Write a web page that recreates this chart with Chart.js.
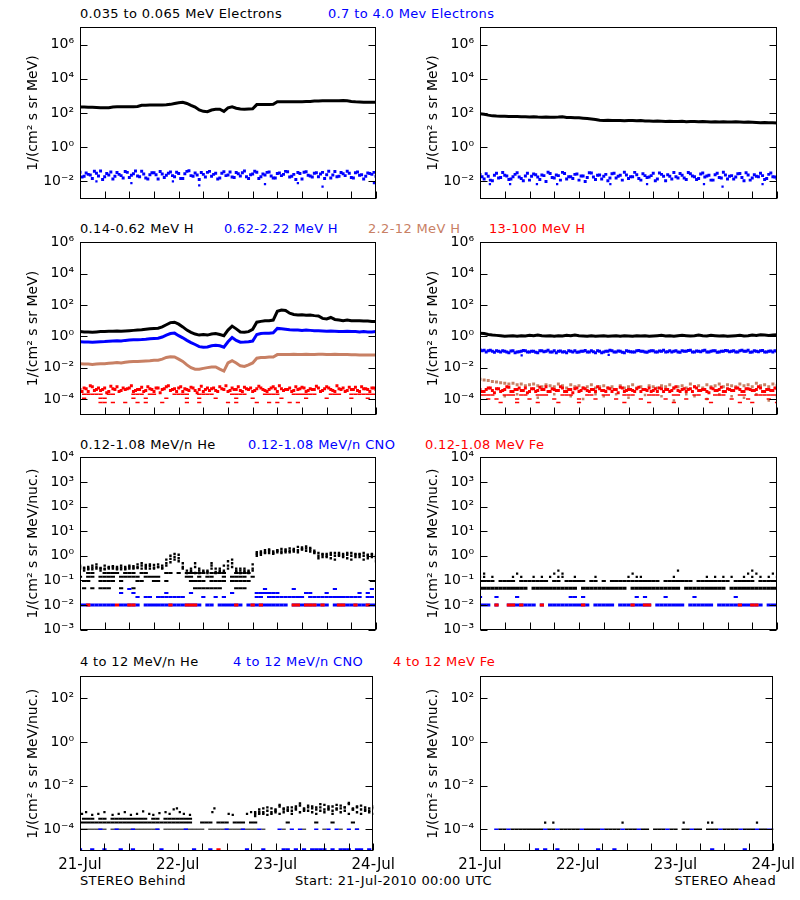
<!DOCTYPE html>
<html>
<head>
<meta charset="utf-8">
<script src="https://cdn.jsdelivr.net/npm/chart.js@4.4.0/dist/chart.umd.min.js"></script>
<style>
  html, body { margin: 0; padding: 0; background: #fff; }
  body { width: 800px; height: 900px; position: relative; overflow: hidden; font-family: "DejaVu Sans", sans-serif; }
  canvas { position: absolute; }
  .t { position: absolute; font-size: 13px; letter-spacing: 0.35px; white-space: nowrap; line-height: 16px; color: #000; }
</style>
</head>
<body>
<div class="t" style="left:80px;top:6px">0.035 to 0.065 MeV Electrons</div>
<div class="t" style="left:328px;top:6px;color:#0000ff">0.7 to 4.0 Mev Electrons</div>
<div class="t" style="left:80px;top:221px">0.14-0.62 MeV H</div>
<div class="t" style="left:224px;top:221px;color:#0000ff">0.62-2.22 MeV H</div>
<div class="t" style="left:368px;top:221px;color:rgb(200,128,100)">2.2-12 MeV H</div>
<div class="t" style="left:489px;top:221px;color:#ff0000">13-100 MeV H</div>
<div class="t" style="left:80px;top:437px">0.12-1.08 MeV/n He</div>
<div class="t" style="left:248px;top:437px;color:#0000ff">0.12-1.08 MeV/n CNO</div>
<div class="t" style="left:425px;top:437px;color:#ff0000">0.12-1.08 MeV Fe</div>
<div class="t" style="left:80px;top:654px">4 to 12 MeV/n He</div>
<div class="t" style="left:233px;top:654px;color:#0000ff">4 to 12 MeV/n CNO</div>
<div class="t" style="left:393px;top:654px;color:#ff0000">4 to 12 MeV Fe</div>
<div class="t" style="left:80px;top:873px">STEREO Behind</div>
<div class="t" style="left:295px;top:873px">Start: 21-Jul-2010 00:00 UTC</div>
<div class="t" style="right:24px;top:873px">STEREO Ahead</div>
<script>
// time axis: hours since 21-Jul-2010 00:00
var dayLabels = ['21-Jul', '22-Jul', '23-Jul', '24-Jul']

// ---- electrons (hourly) ----
var eLoBehind = [224,222,218,215,212, 205,200,205, 225,228,230,232,230,235,240, 280,285,290,290,292,295,300,
  320,360,400,425, 360,280,224, 150,125,120, 150,165,165, 125, 200,230, 190,170,165,170,175,
  310,315,316,318,320, 450,455,460,460,455,460,460,465,470, 500,510,520,525,525,520,525,530,520,
  470,450,440,430,430,425,420]
var eHiBehind = [0.035,0.02,0.026,0.015,0.03,0.041,0.019,0.024,0.014,0.033, 0.022,0.038,0.017,0.028,0.021,0.04,0.016,0.025,0.032,0.014,
  0.027,0.023,0.036,0.019,0.029,0.015,0.039,0.022,0.031,0.013, 0.026,0.034,0.02,0.03,0.016,0.037,0.024,0.018,0.033,0.021,
  0.041,0.015,0.027,0.035,0.019,0.024,0.036,0.016,0.029,0.022, 0.039,0.018,0.026,0.033,0.014,0.037,0.021,0.03,0.019,0.034,
  0.025,0.016,0.038,0.02,0.028,0.04,0.017,0.032,0.023,0.014, 0.031,0.026,0.02]
var eHiBehindHalf = [0.018,0.031,0.024,0.04,0.021,0.013,0.029,0.036,0.02,0.026, 0.016,0.034,0.023,0.041,0.019,0.027,0.014,0.032,0.025,0.038,
  0.017,0.03,0.022,0.035,0.015,0.028,0.042,0.02,0.024,0.033, 0.018,0.039,0.026,0.014,0.03,0.022,0.036,0.017,0.028,0.032,
  0.019,0.025,0.04,0.015,0.027,0.034,0.021,0.016,0.031,0.026, 0.037,0.02,0.013,0.029,0.035,0.023,0.018,0.032,0.027,0.015,
  0.04,0.024,0.019,0.033,0.022,0.03,0.016,0.036,0.025,0.02, 0.029,0.034]
var eHiBehindLow = [[4,0.01],[12.5,0.008],[22.6,0.01],[29,0.006],[45,0.007],[53,0.008],[59,0.005],[71.5,0.008]]

var eLoAhead = [90,85,75, 68,66,65,64,63,62,63,61, 60,59,60,58,57,58,56,57,58,60, 55,54,53,52,50,48,45,42,
  38,37,38,36,37,36,35,37,36,35,36,34, 34,33,34,33,32,33,32,32,33,31,32,32,31,32,31,30,
  31,30,31,30,30,31,30,29,30,29,28,27,28,27,27,26]
var eHiAhead = [0.026,0.014,0.02,0.011,0.03,0.017,0.023,0.013,0.019,0.032, 0.015,0.021,0.012,0.027,0.018,0.024,0.01,0.029,0.016,0.022,
  0.034,0.014,0.019,0.026,0.012,0.021,0.017,0.031,0.013,0.024, 0.02,0.011,0.028,0.016,0.023,0.035,0.015,0.019,0.025,0.012,
  0.022,0.018,0.03,0.014,0.026,0.011,0.02,0.033,0.016,0.023, 0.013,0.028,0.019,0.015,0.031,0.021,0.012,0.025,0.017,0.035,
  0.014,0.022,0.018,0.029,0.011,0.024,0.016,0.02,0.03,0.013, 0.026,0.019,0.015]
var eHiAheadHalf = [0.019,0.028,0.012,0.023,0.016,0.033,0.021,0.014,0.026,0.018, 0.011,0.03,0.02,0.025,0.013,0.022,0.035,0.017,0.024,0.012,
  0.029,0.019,0.015,0.027,0.021,0.01,0.032,0.018,0.023,0.014, 0.026,0.016,0.03,0.02,0.012,0.024,0.019,0.034,0.015,0.028,
  0.017,0.022,0.011,0.031,0.02,0.025,0.014,0.019,0.029,0.016, 0.033,0.021,0.013,0.027,0.018,0.023,0.012,0.03,0.016,0.024,
  0.02,0.014,0.028,0.017,0.032,0.012,0.025,0.019,0.022,0.015, 0.031,0.018]
var eHiAheadLow = [[2.4,0.007],[7.3,0.007],[13.8,0.007],[18.7,0.007],[31.6,0.007],[40.5,0.007],[54.3,0.007],[58.8,0.005],[68.5,0.007]]

// ---- protons (hourly) ----
var hLoBehind = [2.0,1.9,1.9,1.8,1.9,2.0,2.0,2.1, 2.1,2.2,2.1,2.2,2.3,2.4,2.5,2.6, 2.8,3.0,3.2,3.3,4.0,5.5,
  7.5,8.0,6.0,4.0, 2.5,1.8,1.4,1.2,1.3,1.2, 1.4,1.5,1.3,1.1, 2.5,4.5,3.0, 1.9,1.8,2.0,2.8,
  8,9,10,10,11, 40,48,45,30, 25,23,24,22,23,21,20, 14,13,16,12, 11,10,11,10,10,10,9.5,9.5,9,9]
var hMidBehind = [0.45,0.44,0.43,0.42,0.44,0.45,0.46,0.48, 0.5,0.52,0.5,0.55,0.58,0.6,0.6,0.62, 0.65,0.7,0.72,0.75,0.9,1.2,
  1.5,1.6,1.1,0.8, 0.55,0.4,0.3,0.22,0.2,0.21, 0.25,0.27,0.25,0.2, 0.45,0.85,0.55, 0.42,0.43,0.45,0.5,
  1.3,1.5,1.6,1.6,1.7, 3.2,3.0,2.8,2.6, 2.5,2.5,2.4,2.5,2.4,2.3,2.3, 2.2,2.1,2.2,2.1, 2.0,2.0,2.1,2.0,2.0,1.9,2.0,1.9,1.9,2.0]
var hHiBehind = [0.018,0.017,0.017,0.016,0.017,0.018,0.018,0.019, 0.02,0.021,0.02,0.022,0.024,0.025,0.025,0.026,
  0.027,0.028,0.03,0.03,0.035,0.045, 0.05,0.048,0.035,0.025, 0.015,0.01,0.008,0.008,0.009,0.01, 0.011,0.011,0.008,0.006,
  0.02,0.028,0.02, 0.013,0.012,0.015,0.02, 0.04,0.044,0.045,0.047,0.048, 0.068,0.07,0.07,0.07,
  0.072,0.07,0.07,0.071,0.07,0.07,0.072, 0.071,0.07,0.07,0.071, 0.07,0.068,0.07,0.067,0.066,0.065,0.065,0.064,0.064,0.063]
var hTopBehind = [4e-4,5e-4,3e-4,6e-4,4e-4,3.5e-4,5e-4,3e-4,4.5e-4,6e-4, 3.5e-4,4e-4,5e-4,3e-4,4e-4,5.5e-4,3.5e-4,4.5e-4,3e-4,5e-4,
  4e-4,6e-4,3.5e-4,4.5e-4,5e-4,3e-4,4e-4,5.5e-4,3.5e-4,4e-4, 3e-4,5e-4,4.5e-4,3.5e-4,6e-4,4e-4,3e-4,5e-4,4e-4,3.5e-4,
  5.5e-4,4e-4,3e-4,4.5e-4,5e-4,3.5e-4,4e-4,6e-4,3e-4,4.5e-4, 4e-4,5e-4,3.5e-4,4e-4,5.5e-4,3e-4,4.5e-4,4e-4,5e-4,3.5e-4,
  6e-4,4e-4,3e-4,4.5e-4,5e-4,3.5e-4,4e-4,5.5e-4,3e-4,4.5e-4, 4e-4,5e-4,4e-4]
var hTopBehindHalf = [3e-4,4.5e-4,7e-4,3.5e-4,5e-4,4e-4,2.5e-4,6.5e-4,4e-4,3e-4, 5e-4,4.5e-4,7e-4,3.5e-4,4e-4,3e-4,6e-4,4e-4,5e-4,2.5e-4,
  4.5e-4,7e-4,4e-4,3e-4,6e-4,4.5e-4,3.5e-4,5e-4,2.5e-4,6.5e-4, 4e-4,3.5e-4,5e-4,3e-4,4.5e-4,7e-4,3.5e-4,4e-4,6e-4,3e-4,
  4.5e-4,5e-4,3.5e-4,6.5e-4,4e-4,3e-4,5e-4,4.5e-4,7e-4,3.5e-4, 4e-4,3e-4,6e-4,4.5e-4,5e-4,3.5e-4,4e-4,6.5e-4,3e-4,4.5e-4,
  5e-4,3.5e-4,7e-4,4e-4,3e-4,5.5e-4,4e-4,3.5e-4,6e-4,4.5e-4,3e-4,5e-4]
var hTopBehind2e4 = [1,2,3,4,5,7,8,13,14,15,17,18,23,24,25,26,29,30,31,32,37,38,39,40,45,46,47,48,52,53,54,55,56,57,61,62,63,66,67,68,69,70,71,72]
var hTopBehind1e4 = [1,5,6,13,16,21,26,29,33,38,42,49,55,60,66,70]
var hTopBehind6e5 = [5,6,8,11,14,16,20,26,29,36,38,43,46,48,51,53]

var hLoAhead = [1.6,1.5,1.3,1.2,1.15,1.1,1.0,1.05,1.1,1.0, 1.1,1.05,1.15,1.1,1.2,1.1,1.05,1.1,1.0,1.1,
  1.05,1.15,1.1,1.2,1.1,1.05,1.0,1.1,1.0,1.05, 1.1,1.0,1.05,1.1,1.0,1.1,1.05,1.0,1.1,1.05,
  1.1,1.0,1.05,1.1,1.15,1.05,1.1,1.0,1.1,1.15, 1.1,1.05,1.1,1.2,1.1,1.05,1.15,1.1,1.05,1.1,
  1.0,1.05,1.1,1.15,1.05,1.1,1.2,1.15,1.25,1.2, 1.15,1.2,1.25]
var hMidAhead = [0.14,0.13,0.12,0.11,0.12,0.1,0.11,0.09,0.12,0.1, 0.11,0.12,0.1,0.11,0.09,0.12,0.11,0.1,0.12,0.11,
  0.1,0.09,0.11,0.12,0.1,0.11,0.1,0.12,0.09,0.11, 0.1,0.11,0.12,0.1,0.11,0.09,0.11,0.1,0.12,0.11,
  0.1,0.11,0.12,0.1,0.11,0.1,0.12,0.11,0.1,0.12, 0.11,0.13,0.1,0.11,0.12,0.1,0.11,0.12,0.1,0.11,
  0.12,0.11,0.1,0.12,0.11,0.13,0.1,0.11,0.12,0.1, 0.11,0.1,0.11]
var hMidAheadHalf = [0.12,0.1,0.13,0.095,0.11,0.12,0.1,0.115,0.09,0.105, 0.125,0.1,0.11,0.095,0.12,0.105,0.13,0.1,0.09,0.115,
  0.105,0.12,0.1,0.095,0.11,0.125,0.1,0.105,0.12,0.09, 0.11,0.13,0.1,0.115,0.095,0.12,0.105,0.1,0.125,0.11,
  0.095,0.12,0.1,0.115,0.13,0.105,0.1,0.12,0.095,0.11, 0.125,0.1,0.115,0.105,0.13,0.1,0.12,0.095,0.11,0.125,
  0.105,0.12,0.1,0.13,0.11,0.095,0.12,0.105,0.125,0.1, 0.115,0.12]
var hMidAheadLow = [[10.1,0.06],[31.2,0.065]]
var hHiAhead = [1.8e-3,1.6e-3,1.5e-3,1.3e-3,1.2e-3,1.1e-3,1.0e-3,9e-4,1.0e-3,8e-4, 9e-4,7e-4,8e-4,9e-4,7e-4,6e-4,8e-4,7e-4,6e-4,9e-4,
  7e-4,5e-4,8e-4,6e-4,7e-4,5e-4,6e-4,8e-4,5e-4,6e-4, 7e-4,5e-4,6e-4,4e-4,7e-4,5e-4,6e-4,8e-4,5e-4,6e-4,
  4e-4,7e-4,6e-4,5e-4,7e-4,6e-4,8e-4,5e-4,6e-4,7e-4, 5e-4,9e-4,6e-4,7e-4,5e-4,8e-4,6e-4,7e-4,9e-4,6e-4,
  8e-4,7e-4,6e-4,9e-4,7e-4,8e-4,6e-4,1.0e-3,7e-4,8e-4, 6e-4,9e-4,7e-4]
var hHiAheadLow = [[6,1.5e-4],[9,2e-4],[14,1.2e-4],[18,2e-4],[22,1.5e-4],[25,1e-4],[28,2e-4],[30,1.5e-4],[33,2e-4],[36,1.2e-4],[40,1.8e-4],
  [44,1.5e-4],[47,8e-5],[50,2e-4],[52,1.5e-4],[55,1e-4],[58,2e-4],[61,1.5e-4],[64,1.2e-4],[67,2e-4],[70,8e-5],[72,1.5e-4]]
var hTopAhead = [4e-4,3e-4,5e-4,3.5e-4,4.5e-4,3e-4,4e-4,5.5e-4,3e-4,4e-4, 3.5e-4,5e-4,3e-4,4.5e-4,3.5e-4,4e-4,6e-4,3e-4,4e-4,3.5e-4,
  5e-4,3e-4,4e-4,4.5e-4,3e-4,5e-4,3.5e-4,4e-4,3e-4,4.5e-4, 3.5e-4,5e-4,3e-4,4e-4,5.5e-4,3e-4,4e-4,3.5e-4,4.5e-4,3e-4,
  4e-4,5e-4,3.5e-4,3e-4,4.5e-4,4e-4,3e-4,5e-4,3.5e-4,4e-4, 3e-4,4.5e-4,6e-4,3.5e-4,4e-4,3e-4,5e-4,3.5e-4,4e-4,3e-4,
  4.5e-4,3.5e-4,5e-4,4e-4,3e-4,4.5e-4,3.5e-4,4e-4,5e-4,3e-4, 4e-4,3.5e-4,4.5e-4]
var hTopAheadHalf = [3e-4,4e-4,5e-4,2.5e-4,4.5e-4,3.5e-4,6e-4,3e-4,4e-4,5e-4, 3.5e-4,2.5e-4,4.5e-4,3e-4,5.5e-4,4e-4,3e-4,4.5e-4,3.5e-4,6e-4,
  3e-4,4e-4,2.5e-4,5e-4,3.5e-4,4.5e-4,3e-4,4e-4,6e-4,3.5e-4, 3e-4,4.5e-4,4e-4,2.5e-4,5e-4,3.5e-4,4e-4,3e-4,5.5e-4,4e-4,
  3.5e-4,3e-4,4.5e-4,5e-4,3e-4,4e-4,3.5e-4,6e-4,3e-4,4.5e-4, 4e-4,3e-4,5e-4,3.5e-4,4e-4,2.5e-4,4.5e-4,3.5e-4,5.5e-4,3e-4,
  4e-4,3.5e-4,5e-4,3e-4,4.5e-4,4e-4,3.5e-4,6e-4,3e-4,4e-4,3.5e-4,5e-4]
var hTopAhead2e4 = [0,1,2,3,6,7,8,10,11,14,15,16,20,21,22,26,27,30,31,35,36,37,41,42,43,47,48,52,53,57,58,59,63,64,67,68,69,70,71,72]
var hTopAhead1e4 = [2,4,9,12,18,24,28,33,39,45,50,55,61,65,70]
var hTopAhead6e5 = [5,9,14,19,24,35,41,47,56,63,66,72]

// ---- 0.12-1.08 MeV/n heavy ions (quantised count levels) ----
var heLowB1 = [0.3,0.25,0.35,0.28,0.3,0.32,0.3,0.35,0.3,0.28,0.33, 0.35,0.3,0.38,0.32,0.4,0.35,0.3,0.42,0.35,0.3,
  0.7,1.0,1.2,0.8,0.5, 0.25,0.3,0.5,0.25,0.22,0.25,0.4,0.3,0.22,0.25, 0.6,0.7,0.3,0.25,0.22,0.25,0.3,
  1.2,1.5,1.4,1.6,1.3,1.7,1.5,1.8,1.6,1.9,1.7,2.2,2.0,1.8,1.6, 1.0,1.2,0.9,1.1,1.0,1.3,0.9,1.1,1.0,1.2,0.9,1.0,1.1,0.9,0.8]
var heLowB2 = [0.4,0.33,0.28,0.4,0.35,0.25,0.4,0.3,0.38,0.35,0.28, 0.28,0.4,0.3,0.45,0.3,0.42,0.38,0.33,0.45,0.4,
  0.5,0.75,0.9,1.1,0.35, 0.2,0.22,0.35,0.2,0.25,0.2,0.3,0.22,0.25,0.4, 0.4,0.5,0.22,0.3,0.25,0.2,0.25,
  1.0,1.3,1.7,1.3,1.5,1.4,1.9,1.4,2.0,1.5,2.3,1.8,2.4,1.5,1.3, 1.3,0.9,1.2,0.8,1.3,1.0,1.2,0.8,1.3,0.9,1.1,1.3,0.8,1.1,1.0]
var heLowB3 = [0.35,0.3,0.3,0.33,0.45,0.3,0.28,0.33,0.35,0.3,0.4, 0.3,0.35,0.33,0.35,0.5,0.3,0.45,0.3,0.35,0.33,
  0.4,0.55,0.7,0.6,0.3, null,0.25,0.2,0.3,null,0.22,0.5,0.2,0.3,0.22, 0.3,0.35,0.25,0.2,0.3,0.22,0.45,
  1.4,1.1,1.3,1.8,1.2,1.6,1.3,1.6,1.4,1.7,1.4,1.9,1.6,2.1,1.4, 0.8,1.1,1.0,1.3,0.7,1.1,1.0,1.3,0.7,1.1,1.2,0.7,1.0,1.2,0.6]
var heLowB020 = [2,3,6,7,8,9,11,12,13,15,16,21,22,24,26,27,28,29,30,32,33,34,35,38,39,40,41]
var heLowB015 = [0,2,3,5,6,7,8,10,11,12,13,14,16,17,18,19,26,27,29,31,32,35,37,38,39,40,42]
var heLowB010 = [1,2,5,6,7,8,10,14,15,18,19,21,27,28,29,30,32,33,34,35,37,38,39,40,41,71,72]
var heLowB005 = [1,3,5,6,7,10,13,28,29,30,31,32,33,34,38,39,40]
var cnoLowBGaps001 = [9,15,30,33,40,51,61]
var cnoLowB002 = [14,16,17,19,20,21,22,23,24,25,30,33,35,43,44,46,47,48,49,50,51,52,53,54,56,57,58,59,60,61,62,63,64,65,66,67,68,70,71]
var cnoLowB003 = [10,13,21,27,37,43,44,45,46,47,48,55,56,60,68,70]
var cnoLowB0045 = [12,45,52,62,71]
var feLowB001 = [2,9,12,13,22,26,27,28,38,42,44,52,53,55,56,57,59,63,64,67,70]

var heLowAGaps005 = [12,24,36,49,60]
var heLowAGaps010 = [4,9,17,20,26,29,31,44,52,61,67]
var heLowA015 = [0,1,3,8,10,13,15,17,19,20,23,28,36,38,39,47,55,57,59,61,64,66,68,70,72]
var heLowA020 = [1,9,18,20,37,65,67,71]
var heLowA025 = [19,48,66]
var cnoLowAGaps001 = [3,5,6,14,16,27,33,42,50,57,69]
var cnoLowA002 = [0,4,9,22,23,25,38,40,45,52,62]
var feLowA001 = [4,7,8,10,15,25,37,40,41,63,66,67]

// ---- 4-12 MeV/n heavy ions ----
var heHiBGaps1e4 = [7,20,31]
var heHiB1e4Late = [45,50,55,60,64,68]
var heHiB2e4 = [0,1,2,3,4,5,6,7,8,9,10,11,12,13,14,15,16,17,18,19,20,21,22,23,24,25,26,27,30,31,32,34,35,36,38,39,40,42,43,51,58,62,67]
var heHiB3e4 = [1,2,3,5,6,8,9,10,11,12,13,14,15,16,18,19,21,22,23,24,25,26,27]
var heHiBEarly = [[0.5,5e-4],[1.5,6e-4],[3,4.5e-4],[4.5,5e-4],[6,6e-4],[8,4.5e-4],[9.5,5e-4],[11,6e-4],[12.5,4.5e-4],[14,5e-4],
  [15.5,6.5e-4],[17,5e-4],[18,4.5e-4],[19.5,5.5e-4],[21,6e-4],[22,5e-4],[23,8e-4],[23.8,9e-4],[24.5,6e-4],[25.5,5e-4],
  [27,4.5e-4],[32.5,6e-4],[33,9e-4],[36.5,5e-4],[37.5,4.5e-4],[41,5e-4],[42,6e-4]]
// from 43h onward
var heHiBLate1 = [6e-4,8e-4,5e-4,7e-4,9e-4,6e-4,1.1e-3,8e-4,7e-4,1.0e-3,8e-4,1.2e-3,9e-4,7e-4,1.1e-3,8e-4,1.0e-3,1.3e-3,9e-4,1.1e-3,
  8e-4,1.2e-3,1.0e-3,1.4e-3,9e-4,1.1e-3,8e-4,1.0e-3,7e-4,9e-4]
var heHiBLate2 = [4e-4,5e-4,6e-4,4.5e-4,5e-4,7e-4,5e-4,6e-4,8e-4,5e-4,9e-4,6e-4,7e-4,1.0e-3,6e-4,5e-4,7e-4,6e-4,8e-4,5e-4,
  9e-4,6e-4,7e-4,5e-4,8e-4,6e-4,5e-4,7e-4,6e-4,5e-4]
var heHiBLate3 = [5e-4,6e-4,9e-4,1.0e-3,6e-4,8e-4,1.3e-3,9e-4,1.0e-3,7e-4,1.1e-3,1.5e-3,8e-4,1.2e-3,9e-4,1.0e-3,1.4e-3,8e-4,1.1e-3,7e-4,
  1.3e-3,9e-4,1.0e-3,1.6e-3,8e-4,1.0e-3,1.2e-3,8e-4,9e-4,1.1e-3]
var cnoHiB1e4 = [5,9,13,19,26,36,40,44,49,52,54,58,61,63,66,68]
var cnoHiB1e5 = [0,3,6,10,13,20,28,32,41,45,50,51,53,55,57,58,59,60,62,64,65,66,68,69,71]
var feHiB1e5 = [34]

var heHiA1e4 = [5,6,8,9,10,11,12,13,14,15,17,18,20,21,22,23,24,26,27,28,29,31,32,33,34,36,37,38,40,41,43,44,45,47,48,
  50,51,53,54,56,57,58,60,61,62,63,65,66,67,69,70,72]
var heHiA2e4 = [16,18,35,50,56,57,68]
var cnoHiA1e4 = [4,7,16,19,25,30,35,39,46,52,59,64,68,71]
var cnoHiA1e5 = [14,16,19,29,33,57,65]

var BLACK = '#000000', BLUE = '#0000ff', RED = '#ff0000', SIENNA = 'rgb(200,128,100)'
Chart.defaults.font.family = '"DejaVu Sans", sans-serif'
Chart.defaults.color = '#000'

function hourly(arr, start) {
  start = start || 0
  return arr.map(function (v, i) { return { x: start + i, y: v } })
}
function level(hours, v) { return hours.map(function (h) { return { x: h, y: v } }) }
function levelExcept(gaps, v) {
  var out = []
  for (var h = 0; h <= 72; h++) if (gaps.indexOf(h) < 0) out.push({ x: h, y: v })
  return out
}
function levelRange(from, to, gaps, v) {
  var out = []
  for (var h = from; h <= to; h++) if (gaps.indexOf(h) < 0) out.push({ x: h, y: v })
  return out
}
function pairs(list) { return list.map(function (p) { return { x: p[0], y: p[1] } }) }

function trace(data, color, w) {
  return { data: data, showLine: true, borderColor: color, borderWidth: w || 3, pointRadius: 0, fill: false }
}
function dots(data, color, r) {
  return { data: data, showLine: false, pointStyle: 'rect', pointRadius: r || 2.1, pointBackgroundColor: color, pointBorderWidth: 0, pointBorderColor: color }
}
function dashes(data, color, w) {
  return { data: data, showLine: false, pointStyle: 'line', pointRadius: 2.1, pointBorderColor: color, pointBorderWidth: w || 2 }
}

var SUP = { '-': '\u207B', '0': '\u2070', '1': '\u00B9', '2': '\u00B2', '3': '\u00B3', '4': '\u2074', '5': '\u2075', '6': '\u2076', '7': '\u2077', '8': '\u2078', '9': '\u2079' }
function powLabel(v) {
  var e = String(Math.round(Math.log10(v)))
  return '10' + e.split('').map(function (c) { return SUP[c] }).join('')
}

var framePlugin = {
  id: 'frame',
  afterDraw: function (chart) {
    var a = chart.chartArea, ctx = chart.ctx
    var l = Math.round(a.left) + 0.5, r = Math.round(a.right) - 0.5
    var t = Math.round(a.top) + 0.5, b = Math.round(a.bottom) - 0.5
    ctx.save()
    ctx.strokeStyle = '#000'
    ctx.lineWidth = 1
    ctx.strokeRect(l, t, r - l, b - t)
    ctx.beginPath()
    chart.scales.y.ticks.forEach(function (tk) {
      var y = Math.round(chart.scales.y.getPixelForValue(tk.value)) + 0.5
      ctx.moveTo(l, y); ctx.lineTo(l + 7, y)
      ctx.moveTo(r, y); ctx.lineTo(r - 7, y)
    })
    chart.scales.x.ticks.forEach(function (tk) {
      var x = Math.round(chart.scales.x.getPixelForValue(tk.value)) + 0.5
      ctx.moveTo(x, b); ctx.lineTo(x, b - 7)
    })
    ctx.stroke()
    ctx.restore()
  }
}

var TITLE_E = '1/(cm\u00B2 s sr MeV)'
var TITLE_N = '1/(cm\u00B2 s sr MeV/nuc.)'

var panels = [
  { left: 0, top: 13, h: 200, pr: 24, yMin: 1e-3, yMax: 1e7, yTicks: [1e-2, 1, 1e2, 1e4, 1e6], title: TITLE_E, bottom: false,
    datasets: [
      trace(hourly(eLoBehind), BLACK, 3),
      dots(hourly(eHiBehind), BLUE),
      dots(hourly(eHiBehindHalf, 0.5), BLUE),
      dots(pairs(eHiBehindLow), BLUE, 1.6)
    ] },
  { left: 400, top: 13, h: 200, pr: 23, yMin: 1e-3, yMax: 1e7, yTicks: [1e-2, 1, 1e2, 1e4, 1e6], title: TITLE_E, bottom: false,
    datasets: [
      trace(hourly(eLoAhead), BLACK, 3),
      dots(hourly(eHiAhead), BLUE),
      dots(hourly(eHiAheadHalf, 0.5), BLUE),
      dots(pairs(eHiAheadLow), BLUE, 1.6)
    ] },
  { left: 0, top: 228, h: 201, pr: 24, yMin: 1e-5, yMax: 1e6, yTicks: [1e-4, 1e-2, 1, 1e2, 1e4, 1e6], title: TITLE_E, bottom: false,
    datasets: [
      trace(hourly(hLoBehind), BLACK, 3),
      trace(hourly(hMidBehind), BLUE, 3),
      trace(hourly(hHiBehind), SIENNA, 3),
      dots(hourly(hTopBehind), RED),
      dots(hourly(hTopBehindHalf, 0.5), RED),
      dashes(level(hTopBehind2e4, 2e-4), RED, 1.5),
      dashes(level(hTopBehind1e4, 1.1e-4), RED, 1.5),
      dashes(level(hTopBehind6e5, 6e-5), RED, 1.5)
    ] },
  { left: 400, top: 228, h: 201, pr: 23, yMin: 1e-5, yMax: 1e6, yTicks: [1e-4, 1e-2, 1, 1e2, 1e4, 1e6], title: TITLE_E, bottom: false,
    datasets: [
      trace(hourly(hLoAhead), BLACK, 3),
      dots(hourly(hMidAhead), BLUE),
      dots(hourly(hMidAheadHalf, 0.5), BLUE),
      dots(pairs(hMidAheadLow), BLUE, 1.6),
      dots(hourly(hTopAhead), RED),
      dots(hourly(hTopAheadHalf, 0.5), RED),
      dashes(level(hTopAhead2e4, 1.8e-4), RED, 1.5),
      dashes(level(hTopAhead1e4, 1e-4), RED, 1.5),
      dashes(level(hTopAhead6e5, 6e-5), RED, 1.5),
      dots(hourly(hHiAhead), SIENNA),
      dots(pairs(hHiAheadLow), SIENNA, 1.8)
    ] },
  { left: 0, top: 443, h: 201, pr: 24, yMin: 1e-3, yMax: 1e4, yTicks: [1e-3, 1e-2, 1e-1, 1, 10, 100, 1e3, 1e4], title: TITLE_N, bottom: false,
    datasets: [
      dashes(level(feLowB001, 0.0101), RED, 3),
      dashes(levelExcept(cnoLowBGaps001, 0.01), BLUE, 3),
      dashes(level(cnoLowB002, 0.021), BLUE, 2),
      dashes(level(cnoLowB003, 0.031), BLUE, 2),
      dashes(level(cnoLowB0045, 0.045), BLUE, 2),
      dots(hourly(heLowB1), BLACK, 1.7),
      dots(hourly(heLowB2), BLACK, 1.7),
      dots(hourly(heLowB3), BLACK, 1.7),
      dashes(level(heLowB020, 0.2), BLACK, 2),
      dashes(level(heLowB015, 0.14), BLACK, 2),
      dashes(level(heLowB010, 0.095), BLACK, 2),
      dashes(level(heLowB005, 0.048), BLACK, 2)
    ] },
  { left: 400, top: 443, h: 201, pr: 23, yMin: 1e-3, yMax: 1e4, yTicks: [1e-3, 1e-2, 1e-1, 1, 10, 100, 1e3, 1e4], title: TITLE_N, bottom: false,
    datasets: [
      dashes(level(feLowA001, 0.0101), RED, 3),
      dashes(levelExcept(cnoLowAGaps001, 0.01), BLUE, 3),
      dashes(level(cnoLowA002, 0.021), BLUE, 2),
      dots(level(heLowA025, 0.25), BLACK, 1.6),
      dots(level(heLowA020, 0.19), BLACK, 1.6),
      dots(level(heLowA015, 0.14), BLACK, 1.6),
      dashes(levelExcept(heLowAGaps010, 0.095), BLACK, 2),
      dashes(levelExcept(heLowAGaps005, 0.048), BLACK, 3)
    ] },
  { left: 0, top: 662, h: 233, pr: 24, yMin: 1e-5, yMax: 1e3, yTicks: [1e-4, 1e-2, 1, 1e2], title: TITLE_N, bottom: true,
    datasets: [
      dashes(level(feHiB1e5, 1.2e-5), RED, 2),
      dashes(level(cnoHiB1e5, 1.2e-5), BLUE, 2),
      dashes(level(cnoHiB1e4, 1e-4), BLUE, 1.5),
      dots(hourly(heHiBLate1, 43), BLACK, 1.7),
      dots(hourly(heHiBLate2, 43), BLACK, 1.7),
      dots(hourly(heHiBLate3, 43), BLACK, 1.7),
      dots(pairs(heHiBEarly), BLACK, 1.6),
      dashes(level(heHiB3e4, 3e-4), BLACK, 2),
      dashes(level(heHiB2e4, 2e-4), BLACK, 2),
      dashes(levelRange(0, 43, heHiBGaps1e4, 1e-4), BLACK, 1),
      dashes(level(heHiB1e4Late, 1e-4), BLACK, 1)
    ] },
  { left: 400, top: 662, h: 233, pr: 23, yMin: 1e-5, yMax: 1e3, yTicks: [1e-4, 1e-2, 1, 1e2], title: TITLE_N, bottom: true,
    datasets: [
      dashes(level(cnoHiA1e5, 1.2e-5), BLUE, 2),
      dashes(level(cnoHiA1e4, 1e-4), BLUE, 1.5),
      dots(level(heHiA2e4, 2e-4), BLACK, 1.6),
      dashes(level(heHiA1e4, 1e-4), BLACK, 1.5)
    ] }
]

function makePanel(p) {
  var cvs = document.createElement('canvas')
  cvs.width = 400
  cvs.height = p.h
  cvs.style.left = p.left + 'px'
  cvs.style.top = p.top + 'px'
  document.body.appendChild(cvs)
  return new Chart(cvs, {
    type: 'scatter',
    data: { datasets: p.datasets },
    options: {
      responsive: false,
      animation: false,
      devicePixelRatio: 1,
      layout: { padding: { left: 0, right: p.pr, top: 10, bottom: p.bottom ? 0 : 10 } },
      plugins: { legend: { display: false }, tooltip: { enabled: false } },
      scales: {
        x: {
          type: 'linear', min: 0, max: 72,
          afterFit: function (s) { s.height = p.bottom ? 44 : 0 },
          grid: { display: false, drawTicks: false },
          border: { display: false },
          ticks: {
            display: p.bottom, stepSize: 6, autoSkip: false, maxRotation: 0, padding: 5,
            font: { size: 15 }, color: '#000',
            callback: function (v) { return v % 24 === 0 ? dayLabels[v / 24] : '' }
          }
        },
        y: {
          type: 'logarithmic', min: p.yMin, max: p.yMax,
          afterFit: function (s) { s.width = 80 },
          afterBuildTicks: function (s) { s.ticks = p.yTicks.map(function (v) { return { value: v } }) },
          grid: { display: false, drawTicks: false },
          border: { display: false },
          ticks: { autoSkip: false, padding: 6, font: { size: 14 }, color: '#000', callback: powLabel },
          title: { display: true, text: p.title, font: { size: 14 }, color: '#000', padding: { top: 24.6, bottom: 0 } }
        }
      }
    },
    plugins: [framePlugin]
  })
}

panels.forEach(makePanel)
</script>
</body>
</html>
